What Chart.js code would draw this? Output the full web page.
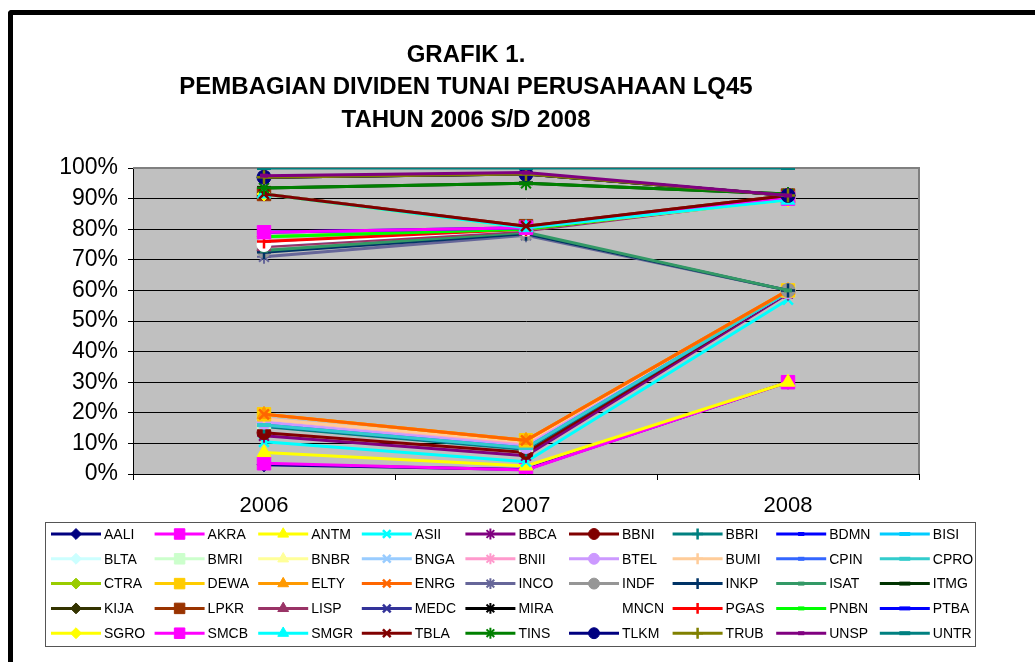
<!DOCTYPE html>
<html>
<head>
<meta charset="UTF-8">
<title>Grafik 1 - Dividen Tunai LQ45</title>
<script src="https://cdn.jsdelivr.net/npm/chart.js"></script>
<style>
  body { margin: 0; background: #fff; }
  #wrap { position: relative; width: 1035px; height: 662px; overflow: hidden; }
  #frame { position: absolute; left: 8px; top: 10px; width: 1100px; height: 700px;
           border-left: 5px solid #000; border-top: 5px solid #000; border-top-left-radius: 4px; }
  canvas { position: absolute; left: 0; top: 0; }
</style>
</head>
<body>
<div id="wrap">
  <div id="frame"></div>
  <canvas id="divChart" width="1035" height="662"></canvas>
</div>
<script>
const titleLines = ['GRAFIK 1.', 'PEMBAGIAN DIVIDEN TUNAI PERUSAHAAN LQ45', 'TAHUN 2006 S/D 2008'];
const years = ['2006', '2007', '2008'];

const companies = [
  'AALI', 'AKRA', 'ANTM', 'ASII', 'BBCA', 'BBNI', 'BBRI', 'BDMN', 'BISI',
  'BLTA', 'BMRI', 'BNBR', 'BNGA', 'BNII', 'BTEL', 'BUMI', 'CPIN', 'CPRO',
  'CTRA', 'DEWA', 'ELTY', 'ENRG', 'INCO', 'INDF', 'INKP', 'ISAT', 'ITMG',
  'KIJA', 'LPKR', 'LISP', 'MEDC', 'MIRA', 'MNCN', 'PGAS', 'PNBN', 'PTBA',
  'SGRO', 'SMCB', 'SMGR', 'TBLA', 'TINS', 'TLKM', 'TRUB', 'UNSP', 'UNTR'
];

// dividend payout (%)
const val2006 = [
  3, 3.5, 7, 10.5, 12.5, 13.5, 15.5, 16.5, 16.5,
  17.5, 17, 17.5, 16.5, 18, 17, 18, 16, 16,
  77.5, 19.5, 19.5, 19.5, 71, 73, 72.5, 73, 93.5,
  97, 91.5, 74.3, 75, 97, 75, 76, 77.5, 79,
  91.5, 79, 91.5, 91.5, 93.5, 97, 97, 97.5, 100
];
const val2007 = [
  1.5, 1.3, 2.6, 4, 6, 7, 8, 9, 9,
  9.5, 9.5, 10, 9.5, 10, 9, 10.5, 8.5, 8.5,
  80, 11, 11, 11, 78, 78.5, 78.5, 79, 95,
  98, 81, 79.5, 80, 98, 80, 80, 80, 80.5,
  80.5, 80.5, 80.5, 81, 95, 98, 98, 98.5, 100
];
const val2008 = [
  30, 30, 30, 57, 59, 59.5, 59.5, 59.5, 59.5,
  60, 60, 60, 59.5, 60, 59.5, 60, 59.5, 59.5,
  90, 60, 60, 60, 60, 60, 60, 60, 91.5,
  91, 91, 90, 90, 91, 90, 90, 90, 90,
  89.5, 90, 89.5, 91, 91.5, 91, 91, 91, 100
];

const seriesColors = [
  '#000080', '#FF00FF', '#FFFF00', '#00FFFF', '#800080', '#800000', '#008080', '#0000FF', '#00CCFF',
  '#CCFFFF', '#CCFFCC', '#FFFF99', '#99CCFF', '#FF99CC', '#CC99FF', '#FFCC99', '#3366FF', '#33CCCC',
  '#99CC00', '#FFCC00', '#FF9900', '#FF6600', '#666699', '#969696', '#003366', '#339966', '#003300',
  '#333300', '#993300', '#993366', '#333399', '#000000', '#FFFFFF', '#FF0000', '#00FF00', '#0000FF',
  '#FFFF00', '#FF00FF', '#00FFFF', '#800000', '#008000', '#000080', '#808000', '#800080', '#008080'
];

const markerCycle = ['rectRot', 'rect', 'triangle', 'crossRot', 'star', 'circle', 'cross', 'dash', 'bar'];

function markerFor(i) { return markerCycle[i % markerCycle.length]; }

function markerOpts(kind, scale) {
  const s = scale || 1;
  switch (kind) {
    case 'rectRot': return { style: 'rectRot', r: 7 * s, bw: 1 };
    case 'rect': return { style: 'rect', r: 9.5 * s, bw: 1 };
    case 'triangle': return { style: 'triangle', r: 8 * s, bw: 1 };
    case 'crossRot': return { style: 'crossRot', r: 7 * s, bw: 2.5 };
    case 'star': return { style: 'star', r: 7 * s, bw: 2 };
    case 'circle': return { style: 'circle', r: 7 * s, bw: 1 };
    case 'cross': return { style: 'cross', r: 7 * s, bw: 2.5 };
    case 'dash': return { style: 'line', r: 4 * s, bw: 4 };
    default: return { style: 'line', r: 7 * s, bw: 4 };
  }
}

const datasets = companies.map((name, i) => {
  const m = markerOpts(markerFor(i));
  return {
    label: name,
    data: [val2006[i], val2007[i], val2008[i]],
    borderColor: seriesColors[i],
    backgroundColor: seriesColors[i],
    borderWidth: 3,
    tension: 0,
    pointStyle: m.style,
    pointRadius: m.r,
    pointHoverRadius: m.r,
    pointBorderWidth: m.bw,
    pointBackgroundColor: seriesColors[i],
    pointBorderColor: seriesColors[i],
    order: companies.length - i   // later series drawn on top, as in Excel
  };
});

const plotBackground = {
  id: 'plotBackground',
  beforeDraw(chart) {
    const { ctx, chartArea: a } = chart;
    ctx.save();
    ctx.fillStyle = '#C0C0C0';
    ctx.fillRect(a.left, a.top, a.right - a.left, a.bottom - a.top);
    ctx.restore();
  },
  beforeDatasetsDraw(chart) {
    const { ctx, chartArea: a } = chart;
    ctx.save();
    ctx.strokeStyle = '#808080';
    ctx.lineWidth = 2;
    ctx.beginPath();
    ctx.moveTo(a.left, a.top);
    ctx.lineTo(a.right, a.top);
    ctx.lineTo(a.right, a.bottom);
    ctx.stroke();
    ctx.restore();
  }
};

const titleAndLegend = {
  id: 'titleAndLegend',
  afterDraw(chart) {
    const ctx = chart.ctx;
    ctx.save();
    ctx.fillStyle = '#000';
    ctx.textAlign = 'center';
    ctx.textBaseline = 'middle';
    ctx.font = 'bold 24px "Liberation Sans", Arial, sans-serif';
    titleLines.forEach((t, k) => ctx.fillText(t, 466, 55 + k * 32.5));

    // legend box, 9 columns x 5 rows
    ctx.strokeStyle = '#555';
    ctx.lineWidth = 1;
    ctx.strokeRect(45.5, 522.5, 930, 124);
    ctx.font = '14px "Liberation Sans", Arial, sans-serif';
    ctx.textAlign = 'left';
    chart.data.datasets.forEach((ds, i) => {
      const col = i % 9, row = Math.floor(i / 9);
      const x0 = 51 + col * 103.6;
      const y = 534 + row * 24.8;
      ctx.strokeStyle = ds.borderColor;
      ctx.lineWidth = 3;
      ctx.beginPath();
      ctx.moveTo(x0, y);
      ctx.lineTo(x0 + 50, y);
      ctx.stroke();
      const m = markerOpts(markerFor(i), 0.78);
      ctx.fillStyle = ds.borderColor;
      ctx.strokeStyle = ds.borderColor;
      ctx.lineWidth = m.bw;
      Chart.helpers.drawPoint(ctx, { pointStyle: m.style, radius: m.r, rotation: 0, borderWidth: m.bw }, x0 + 25, y);
      ctx.fillStyle = '#000';
      ctx.fillText(ds.label, x0 + 53, y + 1);
    });
    ctx.restore();
  }
};

new Chart(document.getElementById('divChart').getContext('2d'), {
  type: 'line',
  data: { labels: years, datasets: datasets },
  options: {
    responsive: false,
    animation: false,
    layout: { padding: { left: 0, right: 116, top: 168, bottom: 0 } },
    plugins: {
      legend: { display: false },
      title: { display: false },
      tooltip: { enabled: false }
    },
    scales: {
      x: {
        offset: true,
        afterFit(scale) { scale.height = 188; },
        grid: { offset: true, drawOnChartArea: false, color: '#000', tickLength: 6 },
        border: { color: '#000', width: 1 },
        ticks: { color: '#000', padding: 13, font: { family: '"Liberation Sans", Arial, sans-serif', size: 22 } }
      },
      y: {
        min: 0,
        max: 100,
        afterFit(scale) { scale.width = 133; },
        grid: { color: '#000', lineWidth: 1, tickLength: 5 },
        border: { color: '#000', width: 1 },
        ticks: {
          stepSize: 10,
          color: '#000',
          padding: 10,
          font: { family: '"Liberation Sans", Arial, sans-serif', size: 23 },
          callback: v => v + '%'
        }
      }
    }
  },
  plugins: [plotBackground, titleAndLegend]
});
</script>
</body>
</html>
